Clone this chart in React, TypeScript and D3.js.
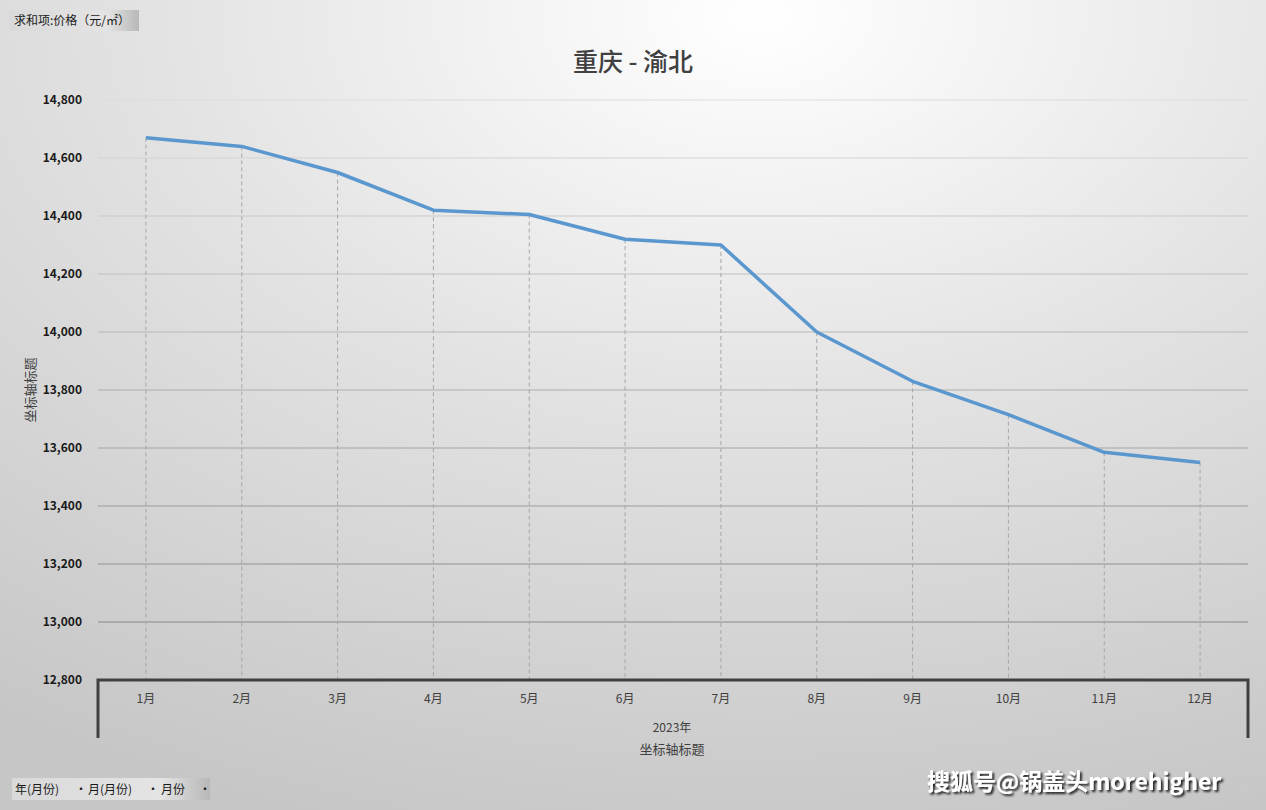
import { useEffect, useRef } from "react"
import * as d3 from "d3"

const months = ["1月", "2月", "3月", "4月", "5月", "6月", "7月", "8月", "9月", "10月", "11月", "12月"]
const prices = [14670, 14640, 14550, 14420, 14405, 14320, 14300, 14000, 13830, 13715, 13585, 13550]
const yTicks = [12800, 13000, 13200, 13400, 13600, 13800, 14000, 14200, 14400, 14600, 14800]

const FONT = "'Noto Sans CJK SC', 'Noto Sans', sans-serif"

export default function App() {
  const svgRef = useRef<SVGSVGElement>(null)

  useEffect(() => {
    if (!svgRef.current) return
    const svg = d3.select(svgRef.current)
    svg.selectAll("*").remove()

    const width = 1266
    const height = 810
    const margin = { top: 100, right: 18, bottom: 130, left: 98 }
    const innerWidth = width - margin.left - margin.right
    const innerHeight = height - margin.top - margin.bottom

    // background gradient (light top-right, grey bottom/left)
    const defs = svg.append("defs")
    const bg = defs
      .append("radialGradient")
      .attr("id", "bg")
      .attr("cx", "0.6")
      .attr("cy", "0.02")
      .attr("r", "1.05")
    bg.append("stop").attr("offset", "0%").attr("stop-color", "#ffffff")
    bg.append("stop").attr("offset", "45%").attr("stop-color", "#e3e3e3")
    bg.append("stop").attr("offset", "100%").attr("stop-color", "#c6c6c6")

    const btn = defs.append("linearGradient").attr("id", "btn").attr("x1", 0).attr("x2", 1).attr("y1", 0).attr("y2", 0)
    btn.append("stop").attr("offset", "0%").attr("stop-color", "#d9d9d9")
    btn.append("stop").attr("offset", "75%").attr("stop-color", "#e4e4e4")
    btn.append("stop").attr("offset", "100%").attr("stop-color", "#b8b8b8")

    const shadow = defs.append("filter").attr("id", "wmShadow").attr("x", "-5%").attr("y", "-30%").attr("width", "110%").attr("height", "160%")
    shadow
      .append("feDropShadow")
      .attr("dx", 2)
      .attr("dy", 2)
      .attr("stdDeviation", 1)
      .attr("flood-color", "#000")
      .attr("flood-opacity", 0.85)

    svg.append("rect").attr("width", width).attr("height", height).attr("fill", "url(#bg)")

    const x = d3.scaleBand().domain(months).range([0, innerWidth])
    const y = d3.scaleLinear().domain([12800, 14800]).range([innerHeight, 0])
    const gridColor = d3.scaleLinear<string>().domain([14800, 12800]).range(["#dcdcdc", "#7f7f7f"])

    const g = svg.append("g").attr("transform", `translate(${margin.left}, ${margin.top})`)

    // gridlines
    g.selectAll(".grid")
      .data(yTicks.filter((d) => d > 12800))
      .enter()
      .append("line")
      .attr("x1", 0)
      .attr("x2", innerWidth)
      .attr("y1", (d) => y(d))
      .attr("y2", (d) => y(d))
      .attr("stroke", (d) => gridColor(d))
      .attr("stroke-width", 1)

    // y tick labels
    g.selectAll(".ylab")
      .data(yTicks)
      .enter()
      .append("text")
      .attr("x", -16)
      .attr("y", (d) => y(d))
      .attr("dy", "0.35em")
      .attr("text-anchor", "end")
      .attr("font-family", FONT)
      .attr("font-size", 12)
      .attr("font-weight", "bold")
      .attr("fill", "#1a1a1a")
      .text((d) => d3.format(",")(d))

    const cx = (m: string) => (x(m) ?? 0) + x.bandwidth() / 2

    // drop lines
    g.selectAll(".drop")
      .data(months)
      .enter()
      .append("line")
      .attr("x1", (d) => cx(d))
      .attr("x2", (d) => cx(d))
      .attr("y1", (d, i) => y(prices[i]))
      .attr("y2", innerHeight)
      .attr("stroke", "#a6a6a6")
      .attr("stroke-width", 1)
      .attr("stroke-dasharray", "4,3")

    // x axis (multi-level)
    g.append("path")
      .attr("d", `M0,${innerHeight + 58}V${innerHeight}H${innerWidth}V${innerHeight + 58}`)
      .attr("fill", "none")
      .attr("stroke", "#404040")
      .attr("stroke-width", 3)

    g.selectAll(".xlab")
      .data(months)
      .enter()
      .append("text")
      .attr("x", (d) => cx(d))
      .attr("y", innerHeight + 23)
      .attr("text-anchor", "middle")
      .attr("font-family", FONT)
      .attr("font-size", 12)
      .attr("fill", "#404040")
      .text((d) => d)

    g.append("text")
      .attr("x", innerWidth / 2 - 1)
      .attr("y", innerHeight + 52)
      .attr("text-anchor", "middle")
      .attr("font-family", FONT)
      .attr("font-size", 12)
      .attr("fill", "#404040")
      .text("2023年")

    g.append("text")
      .attr("x", innerWidth / 2 - 1)
      .attr("y", innerHeight + 74)
      .attr("text-anchor", "middle")
      .attr("font-family", FONT)
      .attr("font-size", 13)
      .attr("fill", "#404040")
      .text("坐标轴标题")

    // line
    const line = d3
      .line<number>()
      .x((d, i) => cx(months[i]))
      .y((d) => y(d))
    g.append("path")
      .datum(prices)
      .attr("d", line)
      .attr("fill", "none")
      .attr("stroke", "#5b97cf")
      .attr("stroke-width", 3.5)
      .attr("stroke-linejoin", "round")

    // y axis title
    svg
      .append("text")
      .attr("transform", `translate(35, ${margin.top + innerHeight / 2}) rotate(-90)`)
      .attr("text-anchor", "middle")
      .attr("font-family", FONT)
      .attr("font-size", 13)
      .attr("fill", "#404040")
      .text("坐标轴标题")

    // title
    svg
      .append("text")
      .attr("x", 633)
      .attr("y", 71)
      .attr("text-anchor", "middle")
      .attr("font-family", FONT)
      .attr("font-size", 25)
      .attr("font-weight", 500)
      .attr("fill", "#404040")
      .text("重庆 - 渝北")

    // pivot field buttons
    svg.append("rect").attr("x", 9).attr("y", 10).attr("width", 130).attr("height", 21).attr("fill", "url(#btn)")
    svg
      .append("text")
      .attr("x", 14)
      .attr("y", 25)
      .attr("font-family", FONT)
      .attr("font-size", 12)
      .attr("fill", "#1a1a1a")
      .text("求和项:价格（元/㎡）")

    svg.append("rect").attr("x", 12).attr("y", 778).attr("width", 198).attr("height", 22).attr("fill", "url(#btn)")
    const fields = [
      { t: "年(月份)", x: 15 },
      { t: "·", x: 75 },
      { t: "月(月份)", x: 88 },
      { t: "·", x: 147 },
      { t: "月份", x: 161 },
      { t: "·", x: 199 },
    ]
    svg
      .selectAll(".field")
      .data(fields)
      .enter()
      .append("text")
      .attr("x", (d) => d.x)
      .attr("y", 794)
      .attr("font-family", FONT)
      .attr("font-size", 12)
      .attr("fill", "#1a1a1a")
      .text((d) => d.t)

    // watermark
    const wm = svg.append("g")
    wm.append("rect").attr("x", 1238).attr("y", 782).attr("width", 10).attr("height", 10).attr("fill", "#c8c8c8")
    wm.append("text")
      .attr("x", 927)
      .attr("y", 790)
      .attr("font-family", FONT)
      .attr("font-size", 23)
      .attr("font-weight", "bold")
      .attr("fill", "#ffffff")
      .attr("filter", "url(#wmShadow)")
      .text("搜狐号@锅盖头morehigher")
  }, [])

  return (
    <svg
      ref={svgRef}
      width={1266}
      height={810}
      style={{ position: "absolute", left: 0, top: 0, display: "block" }}
    />
  )
}
